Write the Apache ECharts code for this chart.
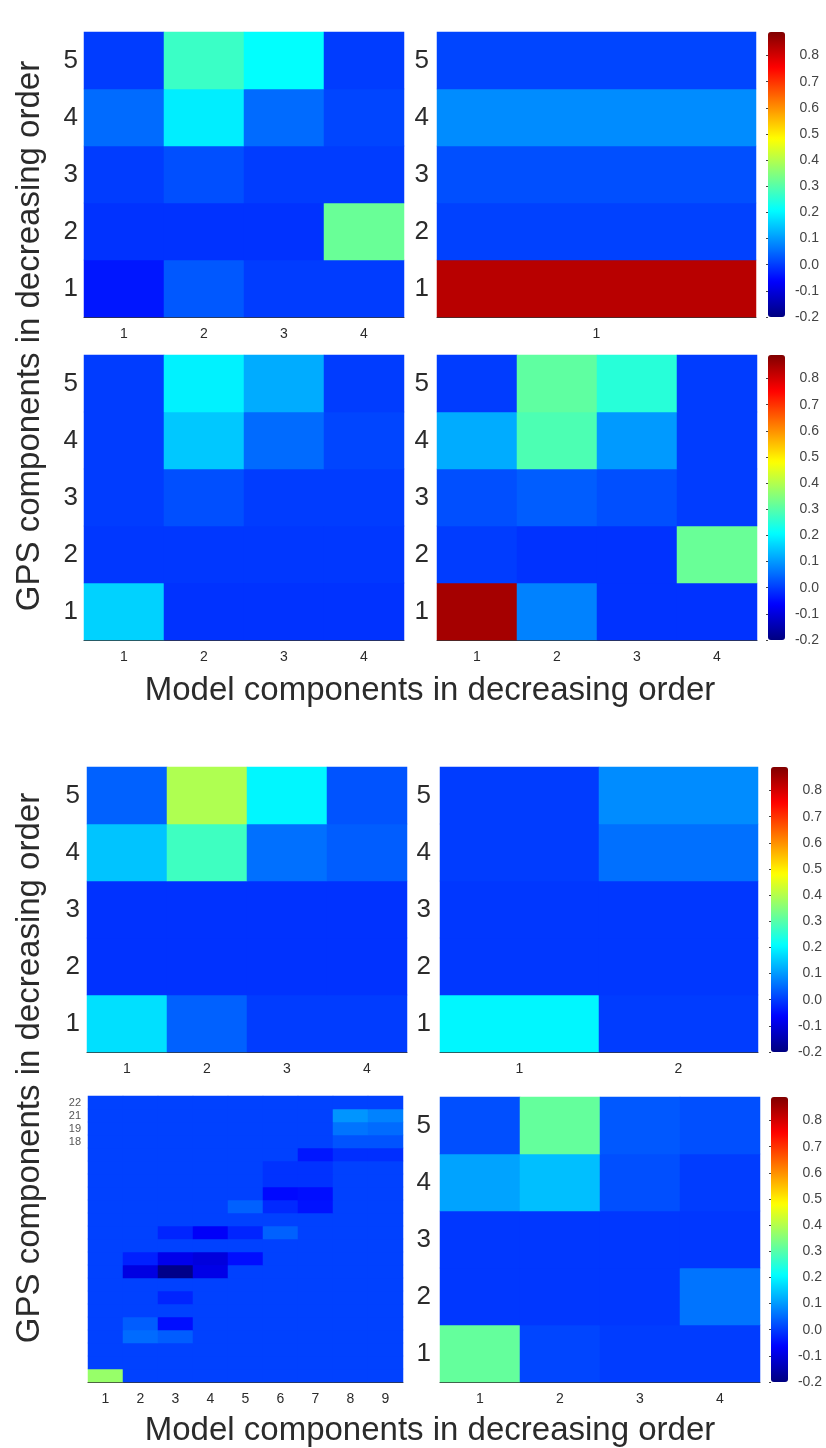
<!DOCTYPE html>
<html>
<head>
<meta charset="utf-8">
<script src="https://cdn.jsdelivr.net/npm/echarts@6/dist/echarts.min.js"></script>
<style>
html,body{margin:0;padding:0;background:#ffffff;}
#chart{width:826px;height:1448px;}
</style>
</head>
<body>
<div id="chart"></div>
<script>
// ---------- colour scale ----------
const colorMin = -0.2;
const colorMax = 0.89;
const colorTickStep = 0.1;
const jetColors = ['#000080', '#0000ff', '#0080ff', '#00ffff', '#80ff80', '#ffff00', '#ff8000', '#ff0000', '#800000'];

// ---------- tick labels ----------
const gpsRowLabels = ['1', '2', '3', '4', '5'];
const modelCols1 = ['1'];
const modelCols2 = ['1', '2'];
const modelCols4 = ['1', '2', '3', '4'];
const modelCols9 = ['1', '2', '3', '4', '5', '6', '7', '8', '9'];
// panel 7 (22 GPS rows) - labels as printed, bottom row first
const gpsRowLabels22 = ['', '', '', '', '', '', '', '', '', '', '', '', '', '', '', '', '', '', '18', '19', '21', '22'];

const xTitle = 'Model components in decreasing order';
const yTitle = 'GPS components in decreasing order';

// ---------- values (each list = one GPS row, row 1 first; columns = model components) ----------
const p1Values = [
  [-0.04, 0.03, 0.0, 0.0],
  [-0.01, -0.01, -0.01, 0.32],
  [0.0, 0.02, 0.0, 0.0],
  [0.05, 0.19, 0.05, 0.01],
  [0.0, 0.27, 0.21, 0.0]
];
const p2Values = [
  [0.83],
  [0.005],
  [0.02],
  [0.085],
  [0.01]
];
const p3Values = [
  [0.16, -0.01, -0.01, -0.01],
  [-0.005, -0.005, -0.005, -0.005],
  [0.0, 0.02, 0.0, 0.0],
  [0.0, 0.15, 0.05, 0.01],
  [0.0, 0.195, 0.12, 0.0]
];
const p4Values = [
  [0.85, 0.075, -0.01, -0.01],
  [0.0, -0.01, -0.01, 0.32],
  [0.02, 0.035, 0.02, 0.0],
  [0.12, 0.29, 0.10, 0.0],
  [0.0, 0.31, 0.25, 0.0]
];
const p5Values = [
  [0.175, 0.04, 0.0, 0.0],
  [-0.01, -0.01, -0.01, -0.01],
  [-0.01, -0.01, -0.01, -0.01],
  [0.145, 0.275, 0.055, 0.035],
  [0.04, 0.395, 0.20, 0.025]
];
const p6Values = [
  [0.20, 0.0],
  [-0.005, -0.005],
  [-0.005, -0.005],
  [0.0, 0.055],
  [0.0, 0.085]
];
// panel 7: 22 GPS rows x 9 model components, row 1 first
const p7Values = [
  [0.37, 0.005, 0.005, 0.005, 0.005, 0.005, 0.005, 0.005, 0.005],   // 1
  [0.005, 0.005, 0.005, 0.005, 0.005, 0.005, 0.005, 0.005, 0.005],  // 2
  [0.005, 0.005, 0.005, 0.005, 0.005, 0.005, 0.005, 0.005, 0.005],  // 3
  [0.005, 0.05, 0.035, 0.005, 0.005, 0.005, 0.005, 0.005, 0.005],   // 4
  [0.005, 0.035, -0.05, 0.005, 0.005, 0.005, 0.005, 0.005, 0.005],  // 5
  [0.005, 0.005, 0.005, 0.005, 0.005, 0.005, 0.005, 0.005, 0.005],  // 6
  [0.005, 0.005, -0.025, 0.005, 0.005, 0.005, 0.005, 0.005, 0.005], // 7
  [0.005, 0.005, 0.005, 0.005, 0.005, 0.005, 0.005, 0.005, 0.005],  // 8
  [0.005, -0.095, -0.19, -0.09, 0.005, 0.005, 0.005, 0.005, 0.005], // 9
  [0.005, -0.03, -0.085, -0.1, -0.05, 0.005, 0.005, 0.005, 0.005],  // 10
  [0.005, 0.005, 0.005, 0.005, 0.005, 0.005, 0.005, 0.005, 0.005],  // 11
  [0.005, 0.005, -0.025, -0.07, -0.025, 0.04, 0.005, 0.005, 0.005], // 12
  [0.005, 0.005, 0.005, 0.005, 0.005, 0.005, 0.005, 0.005, 0.005],  // 13
  [0.005, 0.005, 0.005, 0.005, 0.04, -0.02, -0.045, 0.005, 0.005],  // 14
  [0.005, 0.005, 0.005, 0.005, 0.005, -0.055, -0.05, 0.005, 0.005], // 15
  [0.005, 0.005, 0.005, 0.005, 0.005, -0.01, -0.01, 0.005, 0.005],  // 16
  [0.005, 0.005, 0.005, 0.005, 0.005, -0.01, -0.01, 0.005, 0.005],  // 17
  [0.005, 0.005, 0.005, 0.005, 0.005, 0.005, -0.04, -0.015, -0.015],// 18
  [0.005, 0.005, 0.005, 0.005, 0.005, 0.005, 0.005, 0.025, 0.025],  // 19
  [0.005, 0.005, 0.005, 0.005, 0.005, 0.005, 0.005, 0.06, 0.05],    // 20
  [0.005, 0.005, 0.005, 0.005, 0.005, 0.005, 0.005, 0.095, 0.075],  // 21
  [0.005, 0.005, 0.005, 0.005, 0.005, 0.005, 0.005, 0.005, 0.005]   // 22
];
const p8Values = [
  [0.315, 0.01, 0.0, 0.0],
  [-0.005, -0.005, -0.005, 0.06],
  [-0.005, -0.005, -0.005, -0.005],
  [0.11, 0.14, 0.02, 0.0],
  [0.02, 0.315, 0.03, 0.02]
];

// ---------- layout (sizes chosen so every cell edge falls on a whole pixel) ----------
const FONT = '"Liberation Sans", "Helvetica", Arial, sans-serif';
const TEXT = '#2b2b2b';
const panels = [
  { values: p1Values, cols: modelCols4, rows: gpsRowLabels, left: 84, top: 32, width: 320, height: 285, yFont: 26, yMargin: 6 },
  { values: p2Values, cols: modelCols1, rows: gpsRowLabels, left: 437, top: 32, width: 319, height: 285, yFont: 26, yMargin: 8 },
  { values: p3Values, cols: modelCols4, rows: gpsRowLabels, left: 84, top: 355, width: 320, height: 285, yFont: 26, yMargin: 6 },
  { values: p4Values, cols: modelCols4, rows: gpsRowLabels, left: 437, top: 355, width: 320, height: 285, yFont: 26, yMargin: 8 },
  { values: p5Values, cols: modelCols4, rows: gpsRowLabels, left: 87, top: 767, width: 320, height: 285, yFont: 26, yMargin: 7 },
  { values: p6Values, cols: modelCols2, rows: gpsRowLabels, left: 440, top: 767, width: 318, height: 285, yFont: 26, yMargin: 9 },
  { values: p7Values, cols: modelCols9, rows: gpsRowLabels22, left: 88, top: 1096, width: 315, height: 286, yFont: 11, yMargin: 7 },
  { values: p8Values, cols: modelCols4, rows: gpsRowLabels, left: 440, top: 1097, width: 320, height: 285, yFont: 26, yMargin: 9 }
];
const colorbars = [
  { left: 768, top: 32, height: 285, series: [0, 1] },
  { left: 768, top: 355, height: 285, series: [2, 3] },
  { left: 771, top: 767, height: 285, series: [4, 5] },
  { left: 771, top: 1097, height: 285, series: [6, 7] }
];
const CB_WIDTH = 17;

const grid = [], xAxis = [], yAxis = [], series = [], visualMap = [];

panels.forEach((p, i) => {
  grid.push({ left: p.left, top: p.top, width: p.width, height: p.height, containLabel: false });
  xAxis.push({
    type: 'category', gridIndex: i, data: p.cols,
    axisLine: { show: true, lineStyle: { color: '#333', width: 1 } },
    axisTick: { show: false },
    splitLine: { show: false },
    axisLabel: { fontSize: 14, margin: 10, color: TEXT, fontFamily: FONT, interval: 0 }
  });
  yAxis.push({
    type: 'category', gridIndex: i, data: p.rows,
    axisLine: { show: false }, axisTick: { show: false }, splitLine: { show: false },
    axisLabel: { fontSize: p.yFont, margin: p.yMargin, color: p.yFont < 20 ? '#555' : TEXT, fontFamily: FONT, interval: 0 }
  });
  const data = [];
  p.values.forEach((row, r) => row.forEach((v, c) => data.push([c, r, v])));
  series.push({
    type: 'heatmap', xAxisIndex: i, yAxisIndex: i, data: data,
    silent: true, progressive: 0, itemStyle: { borderWidth: 0 }
  });
});

colorbars.forEach((cb, k) => {
  visualMap.push({
    type: 'continuous', min: colorMin, max: colorMax, seriesIndex: cb.series,
    left: cb.left, top: cb.top, itemWidth: CB_WIDTH, itemHeight: cb.height,
    padding: 0, calculable: false, realtime: false, hoverLink: false,
    text: null, show: true, inRange: { color: jetColors }
  });
  const gi = grid.length;
  grid.push({ left: cb.left, top: cb.top, width: CB_WIDTH, height: cb.height });
  xAxis.push({ type: 'value', gridIndex: gi, show: false });
  yAxis.push({
    type: 'value', gridIndex: gi, position: 'right', z: 10,
    min: colorMin, max: colorMax, interval: colorTickStep,
    axisLine: { show: false }, splitLine: { show: false },
    axisTick: { show: true, inside: true, length: 2, lineStyle: { color: '#444' } },
    axisLabel: {
      showMaxLabel: false, align: 'right', margin: 34, fontSize: 14, color: '#444', fontFamily: FONT,
      formatter: v => (Math.abs(v) < 1e-9 ? 0 : v).toFixed(1)
    }
  });
});

const titleFont = '33px ' + FONT;
const graphic = [
  { type: 'text', x: 30, y: 336, rotation: Math.PI / 2, style: { text: yTitle, font: titleFont, fill: TEXT, align: 'center', verticalAlign: 'middle' } },
  { type: 'text', x: 30, y: 1068, rotation: Math.PI / 2, style: { text: yTitle, font: titleFont, fill: TEXT, align: 'center', verticalAlign: 'middle' } },
  { type: 'text', x: 430, y: 691, style: { text: xTitle, font: titleFont, fill: TEXT, align: 'center', verticalAlign: 'middle' } },
  { type: 'text', x: 430, y: 1431, style: { text: xTitle, font: titleFont, fill: TEXT, align: 'center', verticalAlign: 'middle' } }
];

const chart = echarts.init(document.getElementById('chart'), null, { renderer: 'canvas' });
chart.setOption({
  animation: false,
  backgroundColor: '#ffffff',
  grid, xAxis, yAxis, series, visualMap, graphic
});
</script>
</body>
</html>
